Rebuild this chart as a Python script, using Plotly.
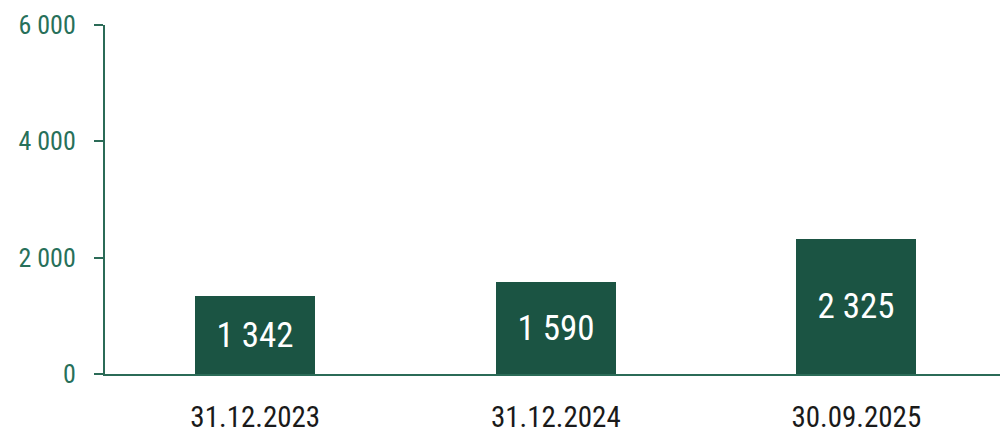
import plotly.graph_objects as go

categories = ["31.12.2023", "31.12.2024", "30.09.2025"]
values = [1342, 1590, 2325]
y_ticks = [0, 2000, 4000, 6000]

FONT = "Liberation Sans Narrow, Roboto Condensed, Roboto, sans-serif"
BAR = "#1b5443"
AXIS = "#2b6b57"
TICKTXT = "#27705a"

fig = go.Figure(go.Bar(
    x=categories, y=values, width=0.4,
    marker=dict(color=BAR, line=dict(width=0)),
    texttemplate="%{y:,d}", textposition="inside", insidetextanchor="middle",
    textfont=dict(family=FONT, size=35, color="white"),
    textangle=0, cliponaxis=False, hoverinfo="skip",
))
fig.update_layout(
    width=1000, height=434, margin=dict(l=105, r=0, t=25, b=58),
    plot_bgcolor="white", paper_bgcolor="white", separators=", ",
    showlegend=False, bargap=0,
    xaxis=dict(range=[-0.5, 2.478], showline=True, linecolor=AXIS, linewidth=2,
               ticks="", showgrid=False, zeroline=False,
               tickfont=dict(family=FONT, size=29, color="#1a1a1a"),
               ticklabelstandoff=16),
    yaxis=dict(range=[0, 6000], tickvals=y_ticks, tickformat=",d",
               showline=True, linecolor=AXIS, linewidth=2,
               ticks="outside", ticklen=9, tickwidth=2, tickcolor=AXIS,
               showgrid=False, zeroline=False,
               tickfont=dict(family=FONT, size=26, color=TICKTXT),
               ticklabelstandoff=13),
)
fig.write_html("out.html")
